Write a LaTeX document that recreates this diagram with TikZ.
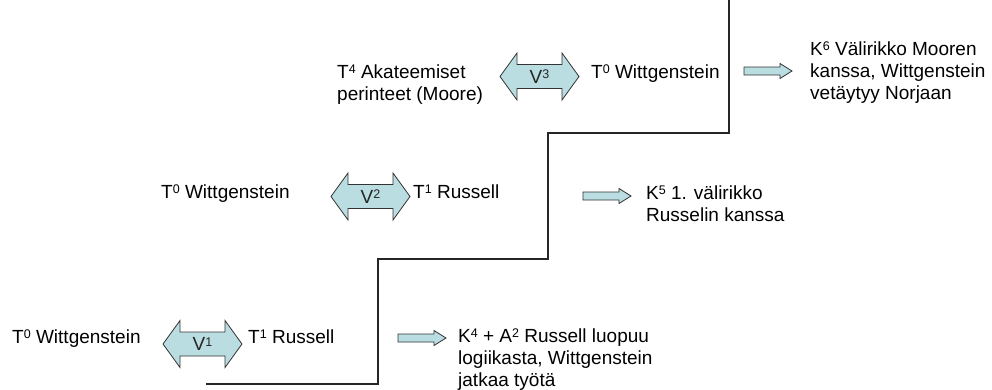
\documentclass[tikz,border=0pt]{standalone}
\usepackage{fontspec}
\setmainfont{Liberation Sans}
\definecolor{arrowfill}{HTML}{B9DDE0}
\definecolor{arrowline}{HTML}{333333}
\newcommand{\supnum}[1]{\raisebox{4.6pt}{\fontsize{12.5}{12}\selectfont #1}}
\newcommand{\DArrow}[4]{%
  \draw[blockarrow, shift={(#2,#3)}] (-39.5,0) -- (-22.5,-23.5) -- (-22.5,-12) -- (22.5,-12) -- (22.5,-23.5) -- (39.5,0) -- (22.5,23.5) -- (22.5,12) -- (-22.5,12) -- (-22.5,23.5) -- cycle;
  \node[vlabel] (#1) at (#2,#3) {#4};}
\newcommand{\SArrow}[3]{%
  \draw[blockarrow, shift={(#2,#3)}] (0,-4) -- (36,-4) -- (36,-7.5) -- (48,0) -- (36,7.5) -- (36,4) -- (0,4) -- cycle;
  \coordinate (#1) at (#2,#3);}
\begin{document}
\begin{tikzpicture}[x=1pt,y=-1pt,
  txt/.style={font=\fontsize{19}{22}\selectfont, inner sep=0pt, anchor=base west, align=left},
  vlabel/.style={font=\fontsize{19}{22}\selectfont, inner sep=0pt, text=black!85},
  blockarrow/.style={fill=arrowfill, draw=arrowline, line width=0.8pt, line join=miter},
  stair/.style={draw=black!85, line width=1.2pt}]
\useasboundingbox (0,0) rectangle (992,389);
\fill[white] (0,0) rectangle (992,389);

% staircase
\coordinate (s0) at (206,384);
\coordinate (s1) at (378,384);
\coordinate (s2) at (378,259);
\coordinate (s3) at (548,259);
\coordinate (s4) at (548,133);
\coordinate (s5) at (729,133);
\coordinate (s6) at (729,0);
\draw[stair] (s0) -- (s1) -- (s2) -- (s3) -- (s4) -- (s5) -- (s6);

% top row (base anchor = baseline of last line)
\node[txt] (t4) at (337,100) {T\supnum{4} Akateemiset\\perinteet (Moore)};
\DArrow{v3}{539.5}{76.5}{V\supnum{3}}
\node[txt] (t0c) at (591,78) {T\supnum{0} Wittgenstein};
\SArrow{a3}{744}{71}
\node[txt] (k6) at (810,99) {K\supnum{6} Välirikko Mooren\\kanssa, Wittgenstein\\vetäytyy Norjaan};

% middle row
\node[txt] (t0b) at (161,198) {T\supnum{0} Wittgenstein};
\DArrow{v2}{370.5}{196.5}{V\supnum{2}}
\node[txt] (t1b) at (413,198) {T\supnum{1} Russell};
\SArrow{a2}{583}{196}
\node[txt] (k5) at (646,221) {K\supnum{5} 1. välirikko\\Russelin kanssa};

% bottom row
\node[txt] (t0a) at (12,343) {T\supnum{0} Wittgenstein};
\DArrow{v1}{202.5}{344}{V\supnum{1}}
\node[txt] (t1a) at (248,343) {T\supnum{1} Russell};
\SArrow{a1}{398}{338}
\node[txt] (k4) at (458,386) {K\supnum{4} + A\supnum{2} Russell luopuu\\logiikasta, Wittgenstein\\jatkaa työtä};
\end{tikzpicture}
\end{document}
